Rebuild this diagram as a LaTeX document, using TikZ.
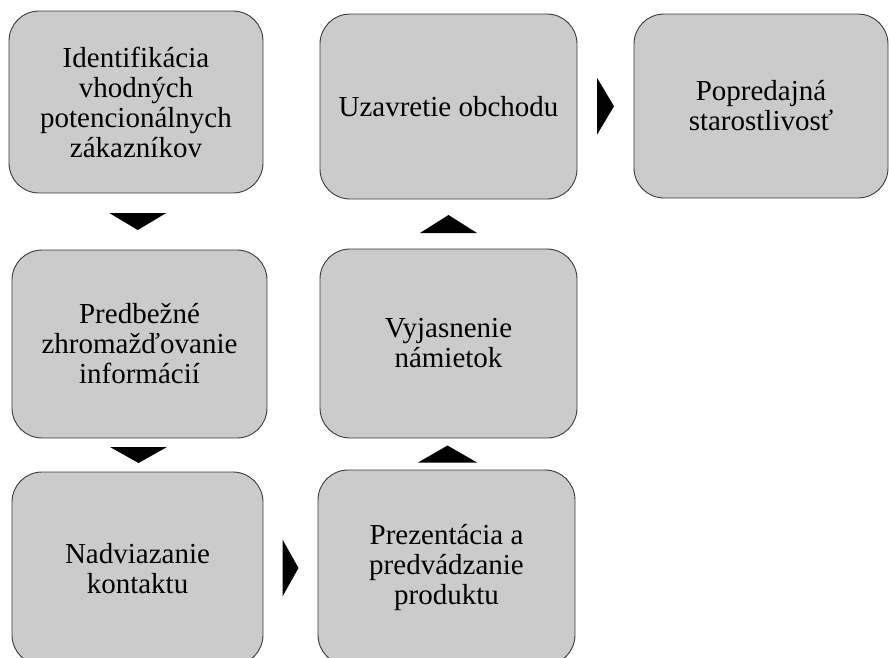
\documentclass[tikz,border=0pt]{standalone}
\usepackage{fontspec}
\setmainfont{Liberation Serif}
\usetikzlibrary{calc}
\definecolor{boxfill}{HTML}{CBCBCB}
\definecolor{boxline}{HTML}{3A3A3A}
\begin{document}
\begin{tikzpicture}[x=1pt,y=-1pt,
  stage/.style={draw=boxline, line width=0.9pt, fill=boxfill,
    rounded corners=30pt, align=center, inner sep=0pt,
    font=\fontsize{29}{30}\selectfont},
  tri/.style={fill=black}]
  \useasboundingbox (0,0) rectangle (889,657);
  \clip (0,0) rectangle (889,657);

  % process stages
  \node[stage, minimum width=254pt, minimum height=182pt] (b1) at (136,102)
    {Identifikácia\\vhodných\\potencionálnych\\zákazníkov};
  \node[stage, minimum width=257pt, minimum height=185pt] (b2) at (448.5,106.5)
    {Uzavretie obchodu};
  \node[stage, minimum width=254pt, minimum height=184pt] (b3) at (761,106)
    {Popredajná\\starostlivosť};
  \node[stage, minimum width=255pt, minimum height=188pt] (b4) at (139.5,344)
    {Predbežné\\zhromažďovanie\\informácií};
  \node[stage, minimum width=257pt, minimum height=189pt] (b5) at (448.5,343.5)
    {Vyjasnenie\\námietok};
  \node[stage, minimum width=251pt, minimum height=193pt] (b6) at (137.5,568.5)
    {Nadviazanie\\kontaktu};
  \node[stage, minimum width=257pt, minimum height=195pt] (b7) at (446.5,567.5)
    {Prezentácia a\\predvádzanie\\produktu};

  % direction markers between stages
  \fill[tri] ($(b1.south)!0.5!(b4.north)$) +(-28.5,-8.5) -- +(28.5,-8.5) -- +(0,8.5) -- cycle;
  \fill[tri] ($(b4.south)!0.5!(b6.north)$) +(-28.5,-8) -- +(28.5,-8) -- +(0,8) -- cycle;
  \fill[tri] ($(b7.north)!0.5!(b5.south)$) +(-29.5,8.5) -- +(29.5,8.5) -- +(0,-8.5) -- cycle;
  \fill[tri] ($(b5.north)!0.5!(b2.south)$) +(-28.5,9) -- +(28.5,9) -- +(0,-9) -- cycle;
  \fill[tri] ($(b6.east)!0.5!(b7.west)$) +(-8,-28.5) -- +(-8,28.5) -- +(8,0) -- cycle;
  \fill[tri] ($(b2.east)!0.5!(b3.west)$) +(-8.5,-28.5) -- +(-8.5,28.5) -- +(8.5,0) -- cycle;
\end{tikzpicture}
\end{document}
